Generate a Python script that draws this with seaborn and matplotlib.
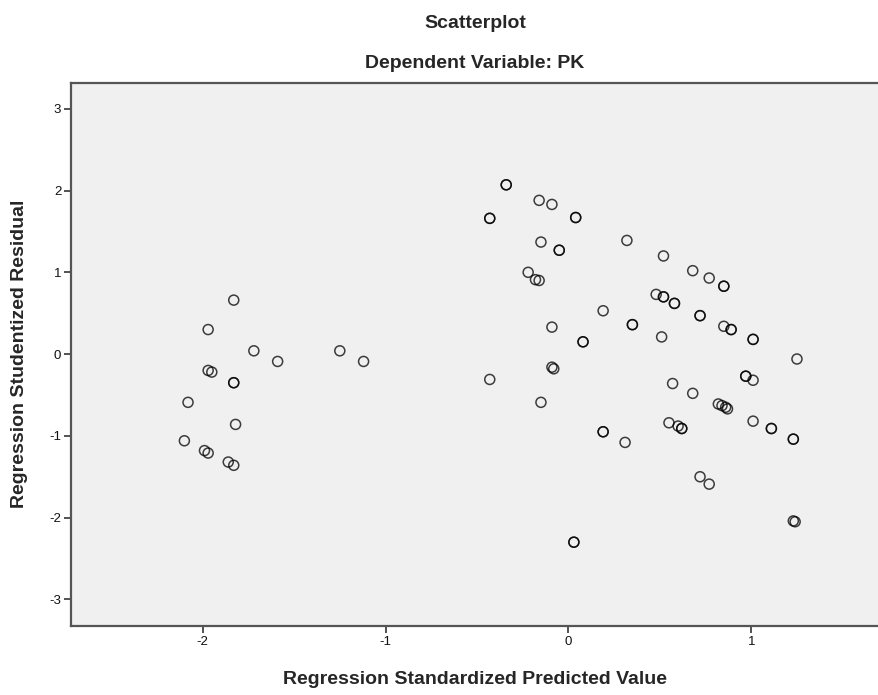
import matplotlib
matplotlib.use("Agg")
import matplotlib.pyplot as plt
import seaborn as sns
import pandas as pd

# standardized predicted values (x) and studentized residuals (y)
pred = [-1.83, -1.97, -1.72, -1.59, -1.25, -1.12, -1.97, -1.95, -1.83, -1.83,
        -2.08, -1.82, -2.10, -1.99, -1.97, -1.86, -1.83,
        -0.34, -0.34, -0.16, -0.09, -0.43, -0.43, 0.04, 0.04, -0.15, -0.05, -0.05,
        -0.22, -0.18, -0.16, -0.09, -0.09, -0.08, -0.43, -0.15, 0.03, 0.03,
        0.32, 0.52, 0.68, 0.77, 0.85, 0.85, 0.48, 0.52, 0.52, 0.58, 0.58,
        0.19, 0.35, 0.35, 0.72, 0.72, 0.85, 0.89, 0.89, 1.01, 1.01, 0.08, 0.08,
        0.51, 1.25, 0.97, 0.97, 1.01, 0.57, 0.68, 0.82, 0.84, 0.86, 0.87,
        1.01, 1.11, 1.11, 1.23, 1.23, 0.55, 0.60, 0.62, 0.62, 0.19, 0.19, 0.31,
        0.72, 0.77, 1.23, 1.24]
resid = [0.66, 0.30, 0.04, -0.09, 0.04, -0.09, -0.20, -0.22, -0.35, -0.35,
         -0.59, -0.86, -1.06, -1.18, -1.21, -1.32, -1.36,
         2.07, 2.07, 1.88, 1.83, 1.66, 1.66, 1.67, 1.67, 1.37, 1.27, 1.27,
         1.00, 0.91, 0.90, 0.33, -0.16, -0.18, -0.31, -0.59, -2.30, -2.30,
         1.39, 1.20, 1.02, 0.93, 0.83, 0.83, 0.73, 0.70, 0.70, 0.62, 0.62,
         0.53, 0.36, 0.36, 0.47, 0.47, 0.34, 0.30, 0.30, 0.18, 0.18, 0.15, 0.15,
         0.21, -0.06, -0.27, -0.27, -0.32, -0.36, -0.48, -0.61, -0.63, -0.65, -0.67,
         -0.82, -0.91, -0.91, -1.04, -1.04, -0.84, -0.88, -0.91, -0.91, -0.95, -0.95, -1.08,
         -1.50, -1.59, -2.04, -2.05]

x_ticks = [-2, -1, 0, 1]
y_ticks = [-3, -2, -1, 0, 1, 2, 3]

df = pd.DataFrame({"pred": pred, "resid": resid})

sns.set_theme(style="white")
plt.rcParams['font.family'] = ['Liberation Sans', 'DejaVu Sans']
plt.rcParams['axes.unicode_minus'] = False

W, H = 879, 695
fig = plt.figure(figsize=(W / 100, H / 100), dpi=100)
# axes box in pixels: left 71, right past the edge, top 83, bottom 626
ax = fig.add_axes([71 / W, (H - 626) / H, (882 - 71) / W, (626 - 83) / H])
ax.set_facecolor('#f0f0f0')

sns.scatterplot(data=df, x="pred", y="resid", ax=ax, marker='o', s=52,
                facecolor='none', edgecolor='black', linewidth=1.1, alpha=0.75)

ax.set_xlim(-2.72, 1.715)
ax.set_ylim(-3.325, 3.315)
ax.set_xticks(x_ticks)
ax.set_yticks(y_ticks)
ax.tick_params(direction='out', length=5, width=1.3, color='#444444',
               labelsize=9.5, labelcolor='#111111', pad=2,
               bottom=True, left=True)
for side in ['left', 'bottom', 'top']:
    ax.spines[side].set_color('#555555')
    ax.spines[side].set_linewidth(1.6)
ax.spines['right'].set_visible(False)

ax.set_xlabel('')
ax.set_ylabel('')
cx = (71 + 879) / 2 / W
fig.text(cx, 1 - 680 / H, 'Regression Standardized Predicted Value',
         ha='center', va='center', fontsize=14, weight='bold')
fig.text(20 / W, 1 - 354 / H, 'Regression Studentized Residual',
         ha='center', va='center', rotation=90, fontsize=14, weight='bold')
fig.text(cx, 1 - 24 / H, 'Scatterplot', ha='center', va='center',
         fontsize=14, weight='bold')
fig.text(cx, 1 - 64 / H, 'Dependent Variable: PK', ha='center', va='center',
         fontsize=14, weight='bold')

fig.savefig('out.png', dpi=100)
